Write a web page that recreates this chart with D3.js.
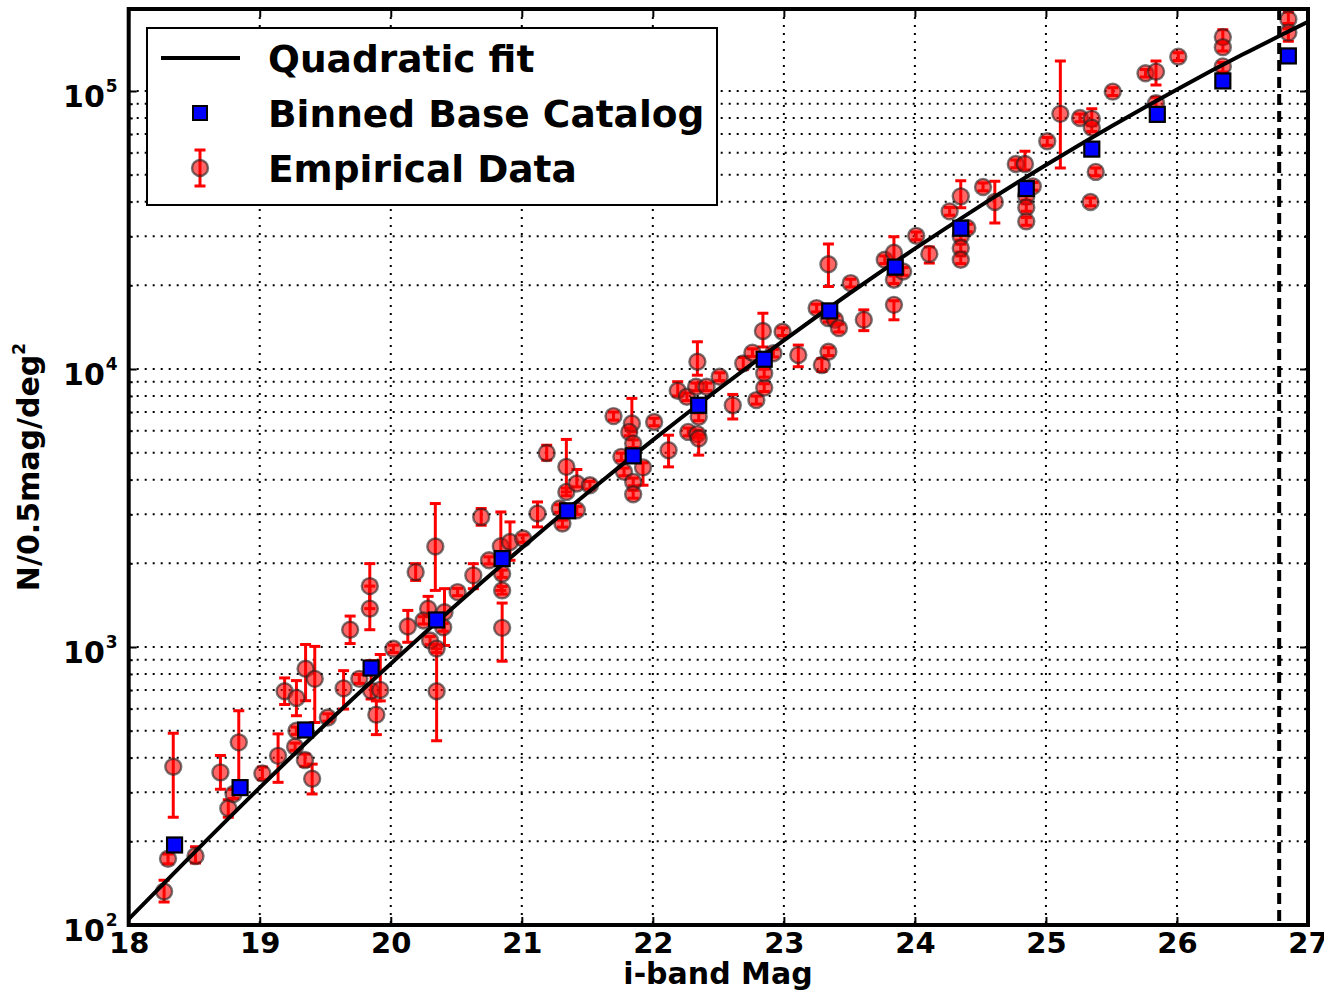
<!DOCTYPE html>
<html><head><meta charset="utf-8">
<script src="https://cdn.jsdelivr.net/npm/d3@7"></script>
<style>
body{margin:0;background:#fff}
text{font-family:"DejaVu Sans",sans-serif;font-weight:bold;fill:#000}
</style>
</head><body>
<svg id="chart" width="1324" height="993"></svg>
<script>
// ---------- data ----------
const xTicks = [18,19,20,21,22,23,24,25,26,27];
const yTicks = [1e2,1e3,1e4,1e5];
const yTickExp = ["2","3","4","5"];
const limitMag = 26.78;

// quadratic fit curve
const fitMag = [18,18.5,19,19.5,20,20.5,21,21.5,22,22.5,23,23.5,24,24.5,25,25.5,26,26.5,27];
const fitN   = [105,182,312,526,871,1419,2273,3581,5550,8455,12680,18690,27090,38630,54180,74720,101350,135200,177400];

// binned base catalog
const binMag = [18.35,18.85,19.35,19.85,20.35,20.85,21.35,21.85,22.35,22.85,23.35,23.85,24.35,24.85,25.35,25.85,26.35,26.85];
const binN   = [194,312,503,840,1251,2080,3090,4870,7405,10840,16180,23250,32100,44570,61800,82400,108700,133700];

// empirical data: magnitude, value, lower and upper error-bar ends
const empMag = [18.27,18.30,18.34,18.51,18.70,18.76,18.80,18.84,19.02,19.14,19.19,19.28,19.27,19.28,19.345,19.35,19.40,19.42,19.52,19.64,
  19.69,19.76,19.85,19.92,19.89,20.02,19.84,19.84,20.13,20.19,20.285,20.25,20.30,20.34,20.35,20.35,20.41,20.40,20.51,20.63,
  20.69,20.75,20.84,20.85,20.85,20.85,20.91,21.01,21.12,21.19,21.34,21.34,21.42,21.52,21.29,21.31,21.42,21.70,21.84,21.82,
  21.85,21.76,21.78,21.85,21.85,21.925,22.01,22.12,22.19,22.26,22.27,22.34,22.33,22.41,22.35,22.34,22.35,22.51,22.61,22.69,
  22.79,22.85,22.85,22.84,22.76,22.92,22.99,23.11,23.29,23.34,23.34,23.25,23.34,23.39,23.42,23.51,23.61,23.77,23.84,23.84,
  23.84,23.91,24.01,24.11,24.265,24.35,24.35,24.35,24.35,24.40,24.52,24.61,24.77,24.84,24.85,24.85,24.85,24.90,25.01,25.11,
  25.26,25.35,25.35,25.38,25.34,25.51,25.76,25.84,25.84,26.01,26.35,26.35,26.35,26.85,26.85];
const empN = [132,173,371,177,354,263,296,454,351,406,693,656,438,500,392,835,336,768,558,710,
  1154,768,697,701,571,985,1656,1374,1185,1860,1373,1246,1055,2300,693,987,1334,1178,1576,1810,
  2937,2051,2303,1835,1598,1172,2386,2455,3020,4990,4446,3613,3873,3819,3148,2780,3103,6770,6370,5940,
  5390,4830,4266,3925,3544,4426,6450,5100,8350,7945,5940,10620,8630,8630,6730,5830,5625,9380,7410,10480,
  7730,8570,9660,13700,11450,11400,13620,11230,10340,11540,23820,16560,15240,15040,14030,20370,15030,24720,26180,20950,
  17010,22430,30130,25940,36900,41780,30010,27230,24720,32140,45170,39900,54660,54660,41810,38100,33960,45400,65930,82760,
  80000,79400,73800,51170,39900,99470,115800,117400,90300,132900,156300,143800,122600,181100,162200];
const empLo = [121,166,244,167,308,244,285,296,333,326,621,566,425,485,372,641,296,535,541,598,
  1029,740,650,640,484,955,1374,1154,1040,1736,1300,1210,1020,1598,460,955,1013,1140,1530,1621,
  2742,1990,1598,1780,1550,889,2051,2380,2704,4700,3613,3500,3767,3700,3050,2700,3000,6550,5940,5750,
  5220,4680,4130,3800,3430,3819,6250,4446,8000,7700,5750,9500,8360,8360,6520,5650,4900,9080,6610,9950,
  7480,8300,9350,12000,11100,11050,13200,10190,9800,11180,19800,16040,14760,14570,13590,19730,13740,23950,24500,20300,
  15030,21730,29190,24050,35750,38000,29070,26380,23950,31140,43760,33500,52950,52000,40500,36900,32900,43980,63870,52860,
  77500,75000,71500,49570,38650,96360,112200,105100,85000,128700,150000,139300,117000,175000,151000];
const empHi = [145,180,489,191,407,282,307,590,370,487,774,757,451,515,412,1021,379,1005,575,822,
  1292,796,893,940,640,1015,1995,1656,1354,1994,1521,1285,1090,3281,985,1020,1621,1215,1625,1994,
  3148,2110,3060,1890,1650,1439,2818,2530,3325,5318,5580,3730,4350,3940,3250,2860,3200,7000,7840,6130,
  5560,4980,4400,4050,3660,4600,6650,5780,9000,8200,6130,12530,8900,8900,6950,6020,5800,9690,8100,11000,
  7990,8850,9980,15870,11820,11770,14060,12190,10900,11920,28180,17100,15740,15530,14490,21030,16320,25520,29900,21630,
  17600,23160,31110,27460,38100,47600,30980,28110,25520,33180,46640,47340,56430,60670,43170,39330,35060,46870,68070,128200,
  82600,86300,76200,52830,41190,102700,119600,128200,95000,137200,166000,148500,126600,192000,167500];

const legendLabels = ["Quadratic fit","Binned Base Catalog","Empirical Data"];

// ---------- layout ----------
const W = 1324, H = 993;
const L = 128.7, R = 1308, T = 9, B = 925;
const svg = d3.select("#chart");

const x = d3.scaleLinear().domain([18,27]).range([L,R]);
const yTop = Math.pow(10, 5 + 82/278);
const y = d3.scaleLog().domain([100, yTop]).range([B,T]);

const minorY = [];
for (let e = 2; e <= 5; e++) for (let k = 2; k <= 9; k++) { const v = k*Math.pow(10,e); if (v < yTop) minorY.push(v); }

// ---------- grid ----------
const grid = svg.append("g").attr("stroke","#000").attr("stroke-width",2).attr("stroke-dasharray","2,6").attr("fill","none");
grid.selectAll("line.gx").data(xTicks.filter(d=>d>18&&d<27)).enter().append("line")
  .attr("x1",d=>x(d)).attr("x2",d=>x(d)).attr("y1",T).attr("y2",B);
grid.selectAll("line.gy").data(yTicks.filter(d=>d>100).concat(minorY)).enter().append("line")
  .attr("y1",d=>y(d)).attr("y2",d=>y(d)).attr("x1",L).attr("x2",R);

// ---------- data ----------
svg.append("clipPath").attr("id","clip").append("rect").attr("x",L).attr("y",T).attr("width",R-L).attr("height",B-T);
const plot = svg.append("g").attr("clip-path","url(#clip)");

const emp = empMag.map((m,i)=>({m, n:empN[i], lo:empLo[i], hi:empHi[i]}));
const cap = 5.5;
const eb = plot.append("g").attr("stroke","#ff0000").attr("stroke-width",3);
emp.forEach(d=>{
  eb.append("line").attr("x1",x(d.m)).attr("x2",x(d.m)).attr("y1",y(d.hi)).attr("y2",y(d.lo));
  eb.append("line").attr("x1",x(d.m)-cap).attr("x2",x(d.m)+cap).attr("y1",y(d.hi)).attr("y2",y(d.hi));
  eb.append("line").attr("x1",x(d.m)-cap).attr("x2",x(d.m)+cap).attr("y1",y(d.lo)).attr("y2",y(d.lo));
});
plot.append("g").selectAll("circle").data(emp).enter().append("circle")
  .attr("cx",d=>x(d.m)).attr("cy",d=>y(d.n)).attr("r",8)
  .attr("fill","#ff0000").attr("fill-opacity",0.6)
  .attr("stroke","#222").attr("stroke-opacity",0.6).attr("stroke-width",2.4);

// fit line
const fit = fitMag.map((m,i)=>({m, n:fitN[i]}));
plot.append("path").datum(fit)
  .attr("d", d3.line().x(d=>x(d.m)).y(d=>y(d.n)).curve(d3.curveMonotoneX))
  .attr("fill","none").attr("stroke","#000").attr("stroke-width",4);

// binned squares
const sq = 15;
plot.append("g").selectAll("rect").data(binMag.map((m,i)=>({m,n:binN[i]}))).enter().append("rect")
  .attr("x",d=>x(d.m)-sq/2).attr("y",d=>y(d.n)-sq/2).attr("width",sq).attr("height",sq)
  .attr("fill","#0000ff").attr("stroke","#000").attr("stroke-width",2.2);

// limit line
svg.append("line").attr("x1",x(limitMag)).attr("x2",x(limitMag)).attr("y1",T).attr("y2",B)
  .attr("stroke","#000").attr("stroke-width",4).attr("stroke-dasharray","11,6");

// ---------- axes ----------
function styleAxis(g){ g.select(".domain").remove(); g.selectAll(".tick line").attr("stroke","#000").attr("stroke-width",2); }

const gx = svg.append("g").attr("transform",`translate(0,${B})`)
  .call(d3.axisBottom(x).tickValues(xTicks).tickSizeInner(-8).tickSizeOuter(0).tickPadding(7).tickFormat(d3.format("d")));
styleAxis(gx);
gx.selectAll("text").attr("font-size","29px").attr("font-family","DejaVu Sans").attr("font-weight","bold").attr("fill","#000");

const gt = svg.append("g").attr("transform",`translate(0,${T})`)
  .call(d3.axisTop(x).tickValues(xTicks).tickSizeInner(-8).tickSizeOuter(0).tickFormat(""));
styleAxis(gt);

const gy = svg.append("g").attr("transform",`translate(${L},0)`)
  .call(d3.axisLeft(y).tickValues(yTicks).tickSizeInner(-8).tickSizeOuter(0).tickPadding(11).tickFormat(""));
styleAxis(gy);
gy.selectAll(".tick text").each(function(d,i){
  const t = d3.select(this);
  t.text(null).attr("dy","0.53em").attr("font-size","30px").attr("font-family","DejaVu Sans").attr("font-weight","bold").attr("fill","#000");
  t.append("tspan").text("10");
  t.append("tspan").attr("dy","-15").attr("dx","1").attr("font-size","17px").text(yTickExp[i]);
});
const gym = svg.append("g").attr("transform",`translate(${L},0)`)
  .call(d3.axisLeft(y).tickValues(minorY).tickSizeInner(-4).tickSizeOuter(0).tickFormat(""));
styleAxis(gym);
const gr = svg.append("g").attr("transform",`translate(${R},0)`)
  .call(d3.axisRight(y).tickValues(yTicks).tickSizeInner(-8).tickSizeOuter(0).tickFormat(""));
styleAxis(gr);
const grm = svg.append("g").attr("transform",`translate(${R},0)`)
  .call(d3.axisRight(y).tickValues(minorY).tickSizeInner(-4).tickSizeOuter(0).tickFormat(""));
styleAxis(grm);

// frame
svg.append("rect").attr("x",L).attr("y",T).attr("width",R-L).attr("height",B-T)
  .attr("fill","none").attr("stroke","#000").attr("stroke-width",4);

// axis labels
svg.append("text").attr("x",718).attr("y",984).attr("text-anchor","middle").attr("font-size","30px").text("i-band Mag");
const yl = svg.append("text").attr("transform","translate(39,467) rotate(-90)").attr("text-anchor","middle").attr("font-size","30px");
yl.append("tspan").text("N/0.5mag/deg");
yl.append("tspan").attr("dy","-14").attr("font-size","17px").text("2");

// ---------- legend ----------
const lg = svg.append("g");
lg.append("rect").attr("x",147).attr("y",28).attr("width",570).attr("height",177)
  .attr("fill","#fff").attr("stroke","#000").attr("stroke-width",2);
const rowY = [58,113,168];
lg.append("line").attr("x1",161).attr("x2",240).attr("y1",rowY[0]).attr("y2",rowY[0]).attr("stroke","#000").attr("stroke-width",4);
lg.append("rect").attr("x",200-7).attr("y",rowY[1]-7).attr("width",14).attr("height",14)
  .attr("fill","#0000ff").attr("stroke","#000").attr("stroke-width",2);
const le = lg.append("g").attr("stroke","#ff0000").attr("stroke-width",3);
le.append("line").attr("x1",200).attr("x2",200).attr("y1",rowY[2]-18).attr("y2",rowY[2]+18);
le.append("line").attr("x1",200-cap).attr("x2",200+cap).attr("y1",rowY[2]-18).attr("y2",rowY[2]-18);
le.append("line").attr("x1",200-cap).attr("x2",200+cap).attr("y1",rowY[2]+18).attr("y2",rowY[2]+18);
lg.append("circle").attr("cx",200).attr("cy",rowY[2]).attr("r",8)
  .attr("fill","#ff0000").attr("fill-opacity",0.6).attr("stroke","#222").attr("stroke-opacity",0.6).attr("stroke-width",2.4);
lg.selectAll("text.lab").data(legendLabels).enter().append("text")
  .attr("x",268).attr("y",(d,i)=>rowY[i]+14).attr("font-size","37.5px").text(d=>d);
</script>
</body></html>
